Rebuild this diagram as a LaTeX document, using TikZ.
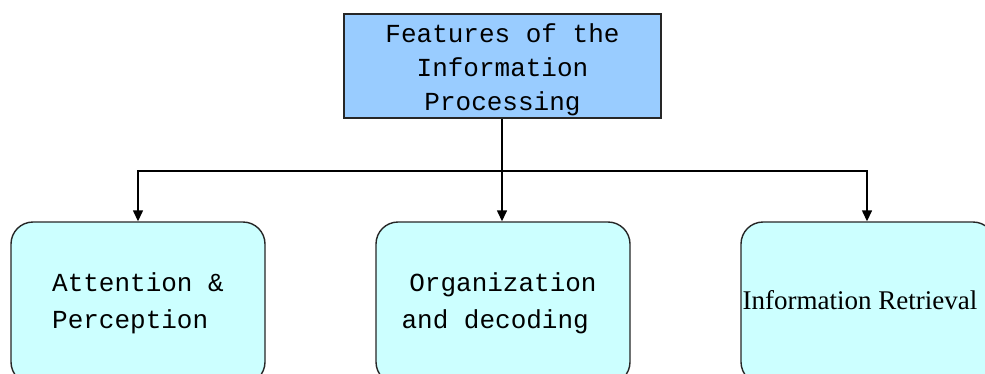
\documentclass[tikz,border=0pt]{standalone}
\usepackage{fontspec}
\setmonofont{Liberation Mono}
\newfontfamily\serifrm{Liberation Serif}
\usetikzlibrary{arrows.meta}
\definecolor{topblue}{HTML}{99CCFF}
\definecolor{boxcyan}{HTML}{CCFFFF}
\tikzset{
  topbox/.style={draw=black!85, line width=1.4pt, fill=topblue, rectangle, inner sep=0pt,
    minimum width=317pt, minimum height=104pt, align=center,
    font=\ttfamily\fontsize{26}{34}\selectfont},
  subbox/.style={draw=black!85, line width=1.4pt, fill=boxcyan, rectangle, rounded corners=22pt,
    inner sep=0pt, minimum width=254pt, minimum height=162pt,
    font=\ttfamily\fontsize{26}{37}\selectfont},
  conn/.style={line width=1.4pt, -{Triangle[length=11pt,width=10pt]}}
}
\begin{document}
\begin{tikzpicture}[x=1pt,y=-1pt]
\useasboundingbox (0,0) rectangle (985,373);
\clip (0,0) rectangle (985,373);
\node[topbox] (top) at (502.5,66) {\rule{0pt}{27pt}Features of the\\Information\\Processing};
\node[subbox, align=left] (att) at (138,303) {Attention \&\\Perception};
\node[subbox, align=center] (org) at (503,303) {Organization\\and decoding\hspace*{0.6em}};
\node[subbox, align=center, font=\serifrm\fontsize{27}{32}\selectfont] (ret) at (868,303) {\raisebox{6pt}{Information Retrieval}\hspace*{16pt}};
\coordinate (j) at (502,171);
\draw[line width=1.4pt] (top.south -| j) -- (j);
\draw[conn] (j) -| (att.north);
\draw[conn] (j) -- (org.north -| j);
\draw[conn] (j) -| (ret.north -| 867,0);
\end{tikzpicture}
\end{document}
